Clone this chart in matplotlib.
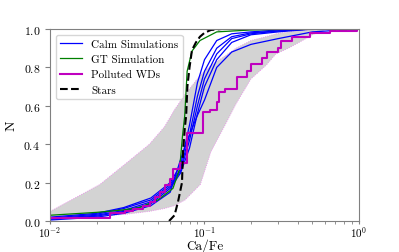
import matplotlib
matplotlib.use("Agg")
import matplotlib.pyplot as plt

plt.rcParams["font.family"] = ["cmr10", "DejaVu Serif"]
plt.rcParams["mathtext.fontset"] = "cm"
plt.rcParams["axes.unicode_minus"] = False
plt.rcParams["axes.formatter.use_mathtext"] = True

# gray band (range of calm simulations)
band_x = [0.01, 0.0145, 0.021, 0.031, 0.044, 0.055, 0.064, 0.075, 0.094, 0.11,
          0.136, 0.16, 0.2, 0.25, 0.29, 0.35, 0.42, 0.5, 0.6, 1.0]
band_hi = [0.05, 0.12, 0.19, 0.30, 0.40, 0.49, 0.58, 0.66, 0.76, 0.81,
           0.86, 0.90, 0.94, 0.96, 0.975, 0.985, 0.993, 0.997, 1.0, 1.0]
band_lo = [0.015, 0.02, 0.025, 0.035, 0.05, 0.065, 0.08, 0.11, 0.19, 0.36,
           0.50, 0.61, 0.74, 0.81, 0.87, 0.90, 0.935, 0.97, 0.995, 1.0]

# calm simulations
calm_x = [0.01, 0.02, 0.03, 0.045, 0.06, 0.07, 0.08, 0.09, 0.1, 0.12, 0.15, 0.2, 0.3, 0.5, 1.0]
calm_a = [0.02, 0.04, 0.07, 0.12, 0.20, 0.29, 0.50, 0.72, 0.84, 0.94, 0.975, 0.985, 0.995, 1.0, 1.0]
calm_b = [0.015, 0.035, 0.065, 0.11, 0.19, 0.27, 0.45, 0.65, 0.78, 0.90, 0.96, 0.98, 0.99, 1.0, 1.0]
calm_c = [0.01, 0.03, 0.055, 0.10, 0.18, 0.26, 0.42, 0.60, 0.74, 0.87, 0.95, 0.975, 0.99, 1.0, 1.0]
calm_d = [0.01, 0.025, 0.05, 0.09, 0.17, 0.25, 0.38, 0.56, 0.70, 0.84, 0.93, 0.97, 0.985, 1.0, 1.0]
calm_e = [0.005, 0.02, 0.04, 0.08, 0.15, 0.32, 0.45, 0.55, 0.63, 0.80, 0.88, 0.92, 0.95, 0.985, 1.0]

# GT simulation
gt_x = [0.01, 0.02, 0.03, 0.038, 0.05, 0.0625, 0.069, 0.072, 0.0745, 0.0772,
        0.083, 0.0935, 0.12, 0.2, 0.4, 1.0]
gt_n = [0.03, 0.045, 0.058, 0.07, 0.11, 0.17, 0.27, 0.44, 0.55, 0.78,
        0.885, 0.94, 0.985, 0.995, 1.0, 1.0]

# polluted white dwarfs (step CDF)
wd_x = [0.01, 0.0245, 0.0306, 0.0345, 0.04, 0.0444, 0.0478, 0.0515, 0.0555, 0.0598,
        0.0625, 0.0694, 0.077, 0.0978, 0.108, 0.12, 0.124, 0.136, 0.162, 0.188,
        0.2, 0.235, 0.254, 0.30, 0.313, 0.37, 0.48, 0.65, 0.97, 1.0]
wd_n = [0.015, 0.04, 0.05, 0.065, 0.08, 0.10, 0.125, 0.15, 0.19, 0.22,
        0.27, 0.30, 0.46, 0.57, 0.58, 0.62, 0.67, 0.69, 0.75, 0.78,
        0.82, 0.85, 0.88, 0.90, 0.94, 0.96, 0.98, 0.99, 1.0, 1.0]

# stars
star_x = [0.059, 0.064, 0.0674, 0.0715, 0.0726, 0.0745, 0.0761, 0.0775, 0.08,
          0.083, 0.088, 0.0935, 0.1, 0.11, 0.13, 1.0]
star_n = [0.0, 0.03, 0.10, 0.20, 0.36, 0.48, 0.55, 0.70, 0.80,
          0.89, 0.93, 0.96, 0.98, 0.995, 1.0, 1.0]


fig = plt.figure(figsize=(3.99, 2.53), dpi=100)
ax = fig.add_axes([0.1253, 0.1225, 0.7744, 0.7589])

ax.fill_between(band_x, band_lo, band_hi, facecolor="lightgray",
                edgecolor="violet", linewidth=0.6, linestyle=":")

for i, calm in enumerate([calm_a, calm_b, calm_c, calm_d, calm_e]):
    ax.plot(calm_x, calm, color="b", linewidth=0.9,
            label="Calm Simulations" if i == 0 else None)
ax.plot(gt_x, gt_n, color="g", linewidth=0.9, label="GT Simulation")
ax.plot(wd_x, wd_n, color="m", linewidth=1.5, drawstyle="steps-post",
        label="Polluted WDs")
ax.plot(star_x, star_n, "k--", linewidth=1.5, label="Stars")

ax.set_xscale("log")
ax.set_xlim(0.01, 1.0)
ax.set_ylim(0, 1.0)
ax.set_xlabel("Ca/Fe", fontsize=9.5, va="bottom")
ax.xaxis.set_label_coords(0.5, -0.16)
ax.set_ylabel("N", fontsize=10)
ax.tick_params(labelsize=8.5, colors="black")
ax.tick_params(axis="x", labelsize=8, pad=0, length=2.5)
ax.tick_params(axis="x", which="minor", length=1.8)
for sp in ax.spines.values():
    sp.set_color("gray")
ax.tick_params(which="both", color="gray")

ax.legend(loc="upper left", fontsize=8)

fig.savefig("out.png", dpi=100)
